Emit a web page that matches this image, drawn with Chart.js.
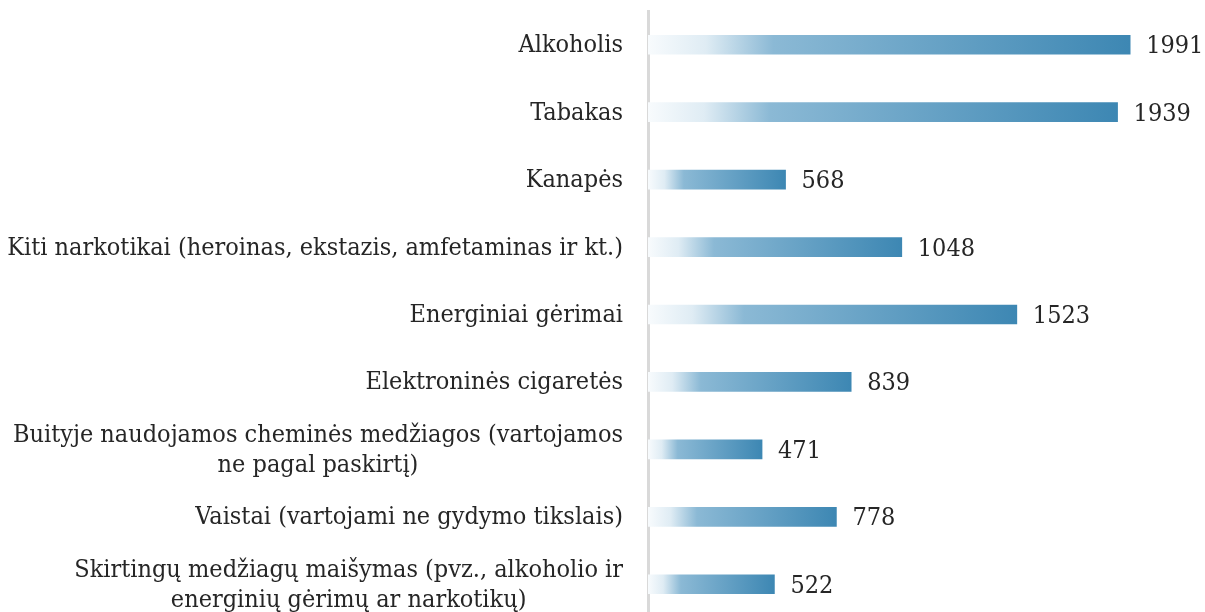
<!DOCTYPE html>
<html>
<head>
<meta charset="utf-8">
<script src="https://cdn.jsdelivr.net/npm/chart.js@4"></script>
<style>
  html, body { margin: 0; padding: 0; background: #fff; overflow: hidden; }
  #wrap { width: 1205px; height: 620px; }
</style>
</head>
<body>
<div id="wrap"><canvas id="chart"></canvas></div>
<script>
// Data
const categories = [
  "Alkoholis",
  "Tabakas",
  "Kanapės",
  "Kiti narkotikai (heroinas, ekstazis, amfetaminas ir kt.)",
  "Energiniai gėrimai",
  "Elektroninės cigaretės",
  ["Buityje naudojamos cheminės medžiagos (vartojamos", "ne pagal paskirtį)"],
  "Vaistai (vartojami ne gydymo tikslais)",
  ["Skirtingų medžiagų maišymas (pvz., alkoholio ir", "energinių gėrimų ar narkotikų)"]
];
const values = [1991, 1939, 568, 1048, 1523, 839, 471, 778, 522];

const FONT = "25px 'DejaVu Serif Condensed', 'DejaVu Serif', serif";
const TEXT_COLOR = "#262626";

// Gradient per bar, light at the axis, dark at the bar end
function barGradient(ctx) {
  const chart = ctx.chart;
  if (!chart.chartArea) return "#6aa3c6";
  const x = chart.scales.x;
  const x0 = x.getPixelForValue(0);
  const x1 = x.getPixelForValue(ctx.raw);
  const g = chart.ctx.createLinearGradient(x0, 0, x1, 0);
  g.addColorStop(0, "#f8fbfd");
  g.addColorStop(0.12, "#dfecf4");
  g.addColorStop(0.26, "#8bb9d5");
  g.addColorStop(1, "#3d87b3");
  return g;
}

// Category labels and value labels
const labelPlugin = {
  id: "labels",
  afterDatasetsDraw(chart) {
    const { ctx, scales } = chart;
    ctx.save();
    ctx.font = FONT;
    ctx.fillStyle = TEXT_COLOR;
    ctx.textBaseline = "middle";

    categories.forEach((cat, i) => {
      const y = scales.y.getPixelForValue(i);
      const lines = Array.isArray(cat) ? cat : [cat];
      const w = Math.max(...lines.map(l => ctx.measureText(l).width));
      const cx = 623 - w / 2;
      const lh = 30;
      ctx.textAlign = "center";
      lines.forEach((l, j) => {
        ctx.fillText(l, cx, y + 1 + (j - (lines.length - 1) / 2) * lh);
      });
    });

    ctx.textAlign = "left";
    values.forEach((v, i) => {
      const y = scales.y.getPixelForValue(i);
      ctx.fillText(String(v), scales.x.getPixelForValue(v) + 16, y + 2);
    });
    ctx.restore();
  }
};

new Chart(document.getElementById("chart"), {
  type: "bar",
  data: {
    labels: categories,
    datasets: [{
      data: values,
      backgroundColor: barGradient,
      barThickness: 19,
      borderWidth: 0
    }]
  },
  options: {
    indexAxis: "y",
    responsive: true,
    maintainAspectRatio: false,
    animation: false,
    layout: { padding: { top: 11, bottom: 2, left: 0, right: 0 } },
    plugins: { legend: { display: false }, tooltip: { enabled: false } },
    scales: {
      x: { display: false, min: 0, max: 2300 },
      y: {
        grid: { display: false },
        ticks: { display: false },
        border: { display: true, color: "#d9d9d9", width: 3 },
        afterFit(scale) { scale.width = 648; }
      }
    }
  },
  plugins: [labelPlugin]
});
</script>
</body>
</html>
